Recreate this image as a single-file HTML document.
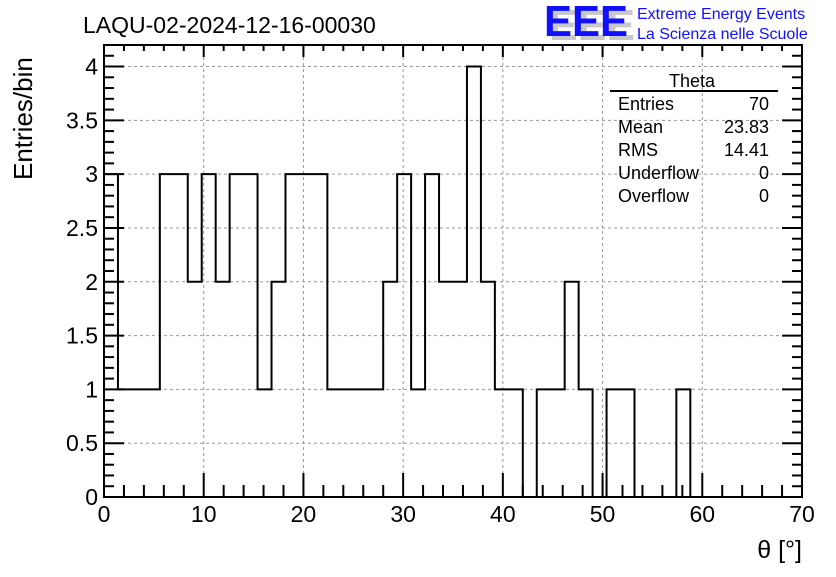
<!DOCTYPE html>
<html><head><meta charset="utf-8"><style>
body{margin:0;background:#fff;}
svg text{font-family:"Liberation Sans",sans-serif;}
</style></head><body>
<svg id="chart" width="836" height="572" xmlns="http://www.w3.org/2000/svg">
<rect width="836" height="572" fill="#fff"/>
<g id="grid"></g>
<g id="ticks"></g>
<path id="hist" fill="none" stroke="#000" stroke-width="2"/>
<rect x="104" y="45" width="698" height="452" fill="none" stroke="#000" stroke-width="2"/>
<g id="labels" font-size="23"></g>
<text x="83" y="33" font-size="23">LAQU-02-2024-12-16-00030</text>
<text x="802" y="558" font-size="25" text-anchor="end">θ [°]</text>
<text transform="translate(32,180) rotate(-90)" font-size="26">Entries/bin</text>
<g>
<text x="549" y="40" font-size="44" font-weight="bold" fill="#c8c8c8" textLength="86" lengthAdjust="spacingAndGlyphs">EEE</text>
<text x="544" y="36" font-size="44" font-weight="bold" fill="#1010ff" textLength="84" lengthAdjust="spacingAndGlyphs">EEE</text>
<text x="637" y="19" font-size="16" fill="#1010ff">Extreme Energy Events</text>
<text x="637" y="39" font-size="16" fill="#1010ff">La Scienza nelle Scuole</text>
</g>
<g font-size="18">
<text x="692" y="87" text-anchor="middle">Theta</text>
<line x1="610" y1="91" x2="778" y2="91" stroke="#000" stroke-width="2"/>
<text x="618" y="110">Entries</text><text x="769" y="110" text-anchor="end">70</text>
<text x="618" y="133">Mean</text><text x="769" y="133" text-anchor="end">23.83</text>
<text x="618" y="156">RMS</text><text x="769" y="156" text-anchor="end">14.41</text>
<text x="618" y="179">Underflow</text><text x="769" y="179" text-anchor="end">0</text>
<text x="618" y="202">Overflow</text><text x="769" y="202" text-anchor="end">0</text>
</g>
</svg>
<script>
const counts=[3,1,1,1,3,3,2,3,2,3,3,1,2,3,3,3,1,1,1,1,2,3,1,3,2,2,4,2,1,1,0,1,1,2,1,0,1,1,0,0,0,1,0,0,0,0,0,0,0,0];
const binWidth=1.4;
const xTicks=[0,10,20,30,40,50,60,70];
const yTicks=[0,0.5,1,1.5,2,2.5,3,3.5,4];
const X0=104,X1=802,Y0=497,Y1=45;
function sx(v){return X0+(v-0)/70*(X1-X0);}
function sy(v){return Y0-(v/4.2)*(Y0-Y1);}
const NS="http://www.w3.org/2000/svg";
function mk(tag,attrs,parent){const e=document.createElementNS(NS,tag);for(const k in attrs)e.setAttribute(k,attrs[k]);parent.appendChild(e);return e;}
const grid=document.getElementById('grid'),ticks=document.getElementById('ticks'),labels=document.getElementById('labels');
xTicks.forEach(t=>{
  const x=sx(t);
  if(t>0&&t<70){const g=mk('line',{x1:x,y1:Y1,x2:x,y2:Y0,stroke:'#999','stroke-dasharray':'3,3'},grid);
  
  }
  mk('line',{x1:x,y1:Y0,x2:x,y2:Y0-24,stroke:'#000','stroke-width':2},ticks);
  mk('line',{x1:x,y1:Y1,x2:x,y2:Y1+12,stroke:'#000','stroke-width':2},ticks);
  const l=mk('text',{x:x,y:522,'text-anchor':'middle'},labels);l.textContent=t;
  
  
});
for(let v=0;v<=70;v+=2){if(v%10===0)continue;const x=sx(v);
  mk('line',{x1:x,y1:Y0,x2:x,y2:Y0-12,stroke:'#000','stroke-width':2},ticks);
  mk('line',{x1:x,y1:Y1,x2:x,y2:Y1+6,stroke:'#000','stroke-width':2},ticks);}
yTicks.forEach(t=>{
  const y=sy(t);
  if(t>0){const g=mk('line',{x1:X0,y1:y,x2:X1,y2:y,stroke:'#999','stroke-dasharray':'3,3'},grid);
  
  }
  mk('line',{x1:X0,y1:y,x2:X0+20,y2:y,stroke:'#000','stroke-width':2},ticks);
  mk('line',{x1:X1,y1:y,x2:X1-20,y2:y,stroke:'#000','stroke-width':2},ticks);
  const l=mk('text',{x:98,y:y+8,'text-anchor':'end'},labels);l.textContent=t;
  
  
});
for(let v=0.1;v<4.2;v+=0.1){const r=Math.round(v*10);if(r%5===0)continue;const y=sy(r/10);
  mk('line',{x1:X0,y1:y,x2:X0+10,y2:y,stroke:'#000','stroke-width':2},ticks);
  mk('line',{x1:X1,y1:y,x2:X1-10,y2:y,stroke:'#000','stroke-width':2},ticks);}
let d='M'+sx(0)+','+sy(0);
counts.forEach((c,i)=>{d+=' L'+sx(i*binWidth)+','+sy(c)+' L'+sx((i+1)*binWidth)+','+sy(c);});
d+=' L'+sx(counts.length*binWidth)+','+sy(0);
document.getElementById('hist').setAttribute('d',d);
</script>
</body></html>
